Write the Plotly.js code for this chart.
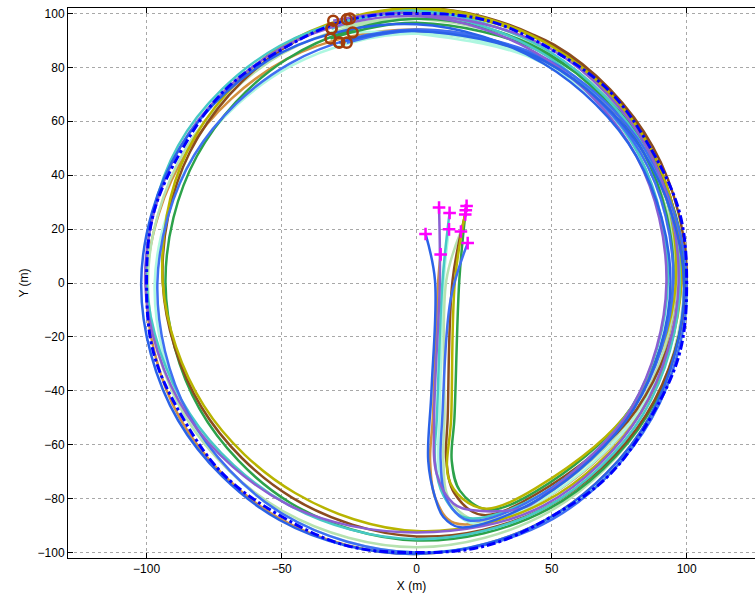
<!DOCTYPE html>
<html>
<head>
<meta charset="utf-8">
<script src="https://cdn.plot.ly/plotly-3.0.1.min.js"></script>
<style>html,body{margin:0;padding:0;overflow:hidden;background:#fff}#chart{width:755px;height:594px}</style>
</head>
<body>
<div id="chart"></div>
<script>
// Reference circle (blue dash-dot)
const refX = [100, 86.6, 50, 0, -50, -86.6, -100, -86.6, -50, 0, 50, 86.6, 100];
const refY = [0, 50, 86.6, 100, 86.6, 50, 0, -50, -86.6, -100, -86.6, -50, 0];

// Trajectories (X, Y in metres)
const blueX  = [3.3, 6.8, 5.5, 4.3, 6.8, 9.9, 16, 46.0, 80.5, 94, 81.4, 47, 0, -49.5, -87.5, -102, -88.3, -50.8, 0, 50, 86.2, 99, 84, 47.5, 0, -28.7];
const blueY  = [18.2, 1, -40, -66, -79.4, -86.8, -90.6, -79.7, -46.5, 0, 47, 81.4, 96, 85.7, 50.5, 0, -51, -87.9, -100.5, -86.6, -49.8, 0, 48.5, 82.3, 93.5, 89.2];

const purpleX = [8.3, 8.6, 6.5, 7.4, 13.6, 21, 38.3, 46, 79.7, 92.5, 81.4, 48, 0, -50.3, -87.5, -100.5, -84.9, -47.5, 0, 47.5, 83.1, 97, 85.7, 50, 0, -30.9];
const purpleY = [28, 1, -50, -70.7, -81.8, -84.3, -83.7, -79.7, -46, 0, 47, 83.1, 99, 87, 50.5, 0, -49, -82.3, -92.5, -82.3, -48, 0, 49.5, 86.6, 100, 97.3];

const turqX = [12.2, 9.6, 7.5, 6.8, 10, 18, 45.5, 79.7, 93, 82.3, 48.5, 0, -50.8, -88.3, -100, -84, -47.5, 0, 48, 84, 97.5, 84.9, 49.5, 0, -31.5];
const turqY = [26, 1, -50, -66, -79, -87, -78.8, -46, 0, 47.5, 84, 100, 87.9, 51, 0, -48.5, -82.3, -95, -83.1, -48.5, 0, 49, 85.7, 101, 94.4];

const oliveX = [18.5, 14.2, 12.8, 11.7, 17, 25.9, 44, 79.7, 96, 85.7, 50.5, 0, -50.5, -84.9, -94, -78.8, -45, 0, 47, 83.1, 98, 86.6, 50.5, 0, -24.7];
const oliveY = [28.6, 1, -50, -72, -80, -83.7, -76.2, -46, 0, 49.5, 87.5, 102, 87.5, 49, 0, -45.5, -77.9, -92, -81.4, -48, 0, 50, 87.5, 101.5, 98.1];

const brownX = [18, 13.3, 11.5, 11, 14, 24, 45, 81.4, 98, 86.6, 50.8, 0, -50, -84, -94, -79.7, -46, 0, 48, 84.9, 100, 87.5, 51, 0, -25.9];
const brownY = [25.4, 1, -50, -66, -78, -86, -77.9, -47, 0, 50, 87.9, 102, 86.6, 48.5, 0, -46, -79.7, -94, -83.1, -49, 0, 50.5, 88.3, 101, 97.8];

const greenX = [18.2, 15.8, 14, 13, 16, 26, 44.5, 79.7, 95, 84, 49, 0, -48, -81.4, -93, -80.5, -47, 0, 48.5, 85.3, 99.5, 85.7, 48.8, 0, -31.9];
const greenY = [27, 1, -50, -66, -77, -84, -77.1, -46, 0, 48.5, 84.9, 98, 83.1, 47, 0, -46.5, -81.4, -95.5, -84, -49.3, 0, 49.5, 84.4, 96.5, 90.7];

const blue2X = [18.9, 12.6, 9.5, 8.9, 11, 19, 45.5, 80.5, 95, 83.1, 47.5, 0, -47, -82.3, -96, -84.4, -49.5, 0, 50.5, 87, 100, 84.9, 48, 0, -25.9];
const blue2Y = [14.8, -6, -50, -66, -80, -88, -78.8, -46.5, 0, 48, 82.3, 94, 81.4, 47.5, 0, -48.8, -85.7, -100, -87.5, -50.3, 0, 49, 83.1, 93.5, 89.1];

const paleX = [16.4, 11, 10.3, 9.9, 12, 22, 46, 81.4, 96, 84, 49, 0, -49.3, -85.7, -99.5, -85.7, -49, 0, 49, 85.3, 99, 85.7, 49.3, 0, -31.5];
const paleY = [19.1, 1, -50, -66, -80, -88, -79.7, -47, 0, 48.5, 84.9, 98, 85.3, 49.5, 0, -49.5, -84.9, -98, -84.9, -49.3, 0, 49.5, 85.3, 98, 94.4];

const aquaX = [12, 10, 8.5, 8, 11, 20, 46.5, 82.3, 97, 83.1, 47, 0, -46.5, -82.3, -97, -84.9, -49.5, 0, 50.3, 87, 100, 84, 47, 0, -23.7];
const aquaY = [19.9, 1, -50, -66, -80, -89, -80.5, -47.5, 0, 48, 81.4, 92.5, 80.5, 47.5, 0, -49, -85.7, -100, -87, -50.3, 0, 48.5, 81.4, 92.5, 92.9];

const tanX = [8.9, 8, 6, 5, 7, 14, 46.5, 82.3, 96, 83.1, 47.5, 0, -48, -84.9, -100, -87.5, -50.5, 0, 50, 86.2, 99, 84, 47.5, 0, -28.7];
const tanY = [10.6, 1, -50, -66, -80, -89, -80.5, -47.5, 0, 48, 82.3, 94, 83.1, 49, 0, -50.5, -87.5, -100.5, -86.6, -49.8, 0, 48.5, 82.3, 93, 89.2];

const series = [
  {x: tanX, y: tanY, color: '#d3913f'},
  {x: aquaX, y: aquaY, color: '#aef7e0'},
  {x: paleX, y: paleY, color: '#b6e2b0'},
  {x: greenX, y: greenY, color: '#2ca24a'},
  {x: brownX, y: brownY, color: '#8b4c1e'},
  {x: oliveX, y: oliveY, color: '#b8b400'},
  {x: turqX, y: turqY, color: '#48c9c6'},
  {x: blue2X, y: blue2Y, color: '#3f6ff2'},
  {x: purpleX, y: purpleY, color: '#8a5fd2'},
  {x: blueX, y: blueY, color: '#2a62e8'}
];

const traces = series.map(s => ({
  x: s.x, y: s.y, type: 'scatter', mode: 'lines',
  line: {color: s.color, width: 2.5, shape: 'spline', smoothing: 1},
  hoverinfo: 'skip', showlegend: false
}));

traces.push({
  x: refX, y: refY, type: 'scatter', mode: 'lines',
  line: {color: '#0000ff', width: 3, dash: 'dashdot', shape: 'spline', smoothing: 1.3},
  showlegend: false
});

traces.push({
  x: series.map(s => s.x[0]), y: series.map(s => s.y[0]),
  type: 'scatter', mode: 'markers',
  marker: {symbol: 'cross-thin', size: 9, color: '#ff00ff', line: {color: '#ff00ff', width: 2.5}},
  showlegend: false
});
traces.push({
  x: series.map(s => s.x[s.x.length - 1]), y: series.map(s => s.y[s.y.length - 1]),
  type: 'scatter', mode: 'markers',
  marker: {symbol: 'circle-open', size: 10, color: '#a33d0c', line: {color: '#a33d0c', width: 2.5}},
  showlegend: false
});

const font = {family: 'Liberation Sans, Arial, sans-serif', size: 12, color: '#000'};
const layout = {
  width: 755, height: 594,
  margin: {l: 68, r: 0, t: 8, b: 36, autoexpand: false},
  paper_bgcolor: '#fff', plot_bgcolor: '#fff',
  font: font,
  showlegend: false,
  xaxis: {
    range: [-129.1, 125.3], tickvals: [-100, -50, 0, 50, 100],
    ticks: 'inside', ticklen: 5, tickcolor: '#000', tickwidth: 1,
    showline: true, linecolor: '#000', linewidth: 1, mirror: 'ticks',
    showgrid: true, gridcolor: '#a8a8a8', griddash: 'dot', gridwidth: 1,
    zeroline: false, tickfont: font,
    title: {text: 'X (m)', font: font, standoff: 6}
  },
  yaxis: {
    range: [-102, 102], tickvals: [-100, -80, -60, -40, -20, 0, 20, 40, 60, 80, 100],
    ticks: 'inside', ticklen: 5, tickcolor: '#000', tickwidth: 1,
    showline: true, linecolor: '#000', linewidth: 1, mirror: false,
    showgrid: true, gridcolor: '#a8a8a8', griddash: 'dot', gridwidth: 1,
    zeroline: false, tickfont: font,
    title: {text: 'Y (m)', font: font, standoff: 6}
  }
};

Plotly.newPlot('chart', traces, layout, {displayModeBar: false, staticPlot: true});
</script>
</body>
</html>
